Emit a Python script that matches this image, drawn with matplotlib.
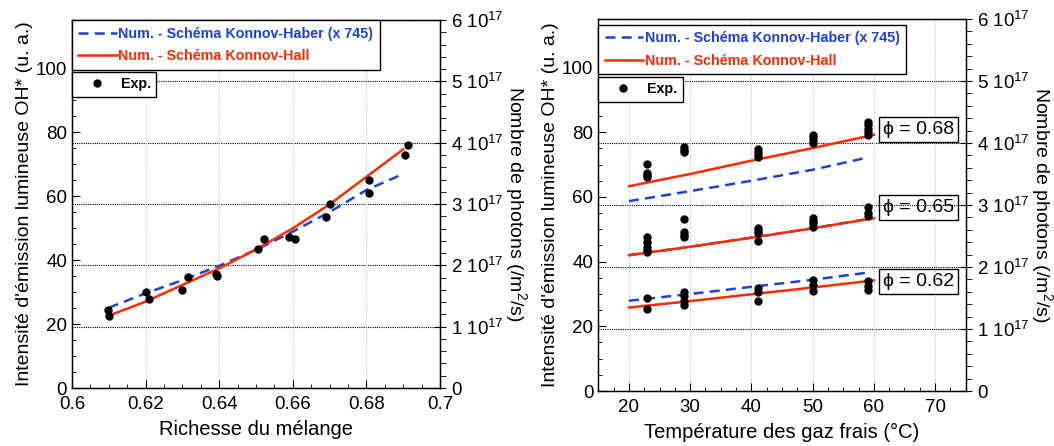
import matplotlib
matplotlib.use("Agg")
import matplotlib.pyplot as plt
from matplotlib.ticker import MultipleLocator, FuncFormatter
from matplotlib.lines import Line2D

plt.rcParams['font.family'] = ['Liberation Sans', 'DejaVu Sans']
plt.rcParams['mathtext.fontset'] = 'custom'
plt.rcParams['mathtext.rm'] = 'Liberation Sans'
plt.rcParams['mathtext.it'] = 'Liberation Sans:italic'
plt.rcParams['mathtext.bf'] = 'Liberation Sans:bold'

RED = '#ff2a00'
BLUE = '#1f3fe0'

# --- left panel: intensity vs equivalence ratio
phi_exp = [0.6097, 0.6101, 0.6201, 0.6210, 0.6298, 0.6315, 0.6390, 0.6393,
           0.6505, 0.6521, 0.6589, 0.6607, 0.6691, 0.6701, 0.6806, 0.6808,
           0.6906, 0.6912]
I_exp = [24.4, 22.6, 30.1, 27.9, 30.6, 34.7, 35.7, 35.1,
         43.3, 46.7, 47.3, 46.6, 53.4, 57.5, 65.0, 61.1,
         72.8, 76.1]
phi_num = [0.61, 0.62, 0.63, 0.64, 0.65, 0.66, 0.67, 0.68, 0.69]
I_hall = [22.6, 27.0, 32.2, 37.4, 43.3, 49.9, 57.4, 66.0, 74.6]
I_haber = [25.1, 29.6, 33.7, 38.2, 43.2, 48.9, 55.0, 61.9, 66.9]

# --- right panel: intensity vs fresh gas temperature
T_exp = [23, 29, 41, 50, 59]
exp_068 = [[70.1, 67.5, 66.8, 66.1], [75.3, 74.6, 73.8], [74.8, 73.8, 72.9, 72.4],
           [79.3, 78.4, 77.6, 76.7], [83.1, 82.1, 81.0, 80.2, 79.2]]
exp_065 = [[47.7, 46.1, 44.6, 43.5, 43.0], [53.2, 49.1, 48.2, 47.7], [50.5, 49.5, 48.8, 46.5],
           [53.4, 52.6, 51.9, 50.8], [56.8, 55.0, 54.0]]
exp_062 = [[28.8, 25.5], [30.5, 29.3, 27.9, 26.7], [31.8, 30.5, 27.9],
           [34.4, 32.8, 31.0], [33.9, 32.6, 31.3]]
T_num = [20, 30, 40, 50, 60]
T_haber = [20, 30, 40, 50, 59]
hall_068 = [63.3, 67.1, 71.2, 75.1, 79.2]
haber_068 = [58.7, 61.8, 65.0, 68.4, 72.2]
hall_065 = [42.0, 44.6, 47.4, 50.3, 53.4]
haber_065 = [42.0, 44.6, 47.4, 50.3, 53.2]
hall_062 = [25.8, 27.8, 29.9, 32.0, 34.2]
haber_062 = [27.9, 30.0, 32.2, 34.4, 36.6]
phi_labels = ['ϕ = 0.68', 'ϕ = 0.65', 'ϕ = 0.62']
phi_label_y = [80.8, 56.7, 33.8]

YMAX = 115
PHOT_MAX = 6e17


def photon_fmt(v, pos):
    n = int(round(v / 1e17))
    if n == 0:
        return '0'
    return r'$\mathregular{%d\ 10^{17}}$' % n


def setup_axes(ax, xlabel):
    ax.set_ylim(0, YMAX)
    ax.yaxis.set_major_locator(MultipleLocator(20))
    ax.yaxis.set_minor_locator(MultipleLocator(5))
    ax.tick_params(axis='both', which='both', direction='in', labelsize=13.5, top=False, right=False)
    ax.tick_params(which='major', length=6)
    ax.tick_params(which='minor', length=3)
    ax.tick_params(axis='x', pad=6)
    ax.set_xlabel(xlabel, fontsize=14.5, labelpad=5)
    ax.set_ylabel("Intensité d'émission lumineuse OH* (u. a.)", fontsize=14, labelpad=2)
    ax.grid(axis='x', which='major', color='#bdbdbd', linestyle=(0, (1, 1.5)), linewidth=0.8)
    for s in ax.spines.values():
        s.set_linewidth(1.0)

    ax2 = ax.twinx()
    ax2.set_ylim(0, PHOT_MAX)
    ax2.yaxis.set_major_locator(MultipleLocator(1e17))
    ax2.yaxis.set_minor_locator(MultipleLocator(0.2e17))
    ax2.yaxis.set_major_formatter(FuncFormatter(photon_fmt))
    ax2.tick_params(axis='y', which='major', direction='inout', length=9, labelsize=13.5)
    ax2.tick_params(axis='y', which='minor', direction='out', length=4)
    ax2.grid(axis='y', which='major', color='black', linestyle=(0, (1, 1)), linewidth=0.8)
    ax2.set_ylabel('Nombre de photons (/m$^2$/s)', fontsize=14, rotation=270, labelpad=18)
    ax.set_zorder(ax2.get_zorder() + 1)
    ax.patch.set_visible(False)
    return ax2


def add_legends(ax, y_top):
    h = [Line2D([], [], color=BLUE, ls=(0, (4, 2.5)), lw=1.8),
         Line2D([], [], color=RED, lw=1.8)]
    leg1 = ax.legend(h, ['Num. - Schéma Konnov-Haber (x 745)', 'Num. - Schéma Konnov-Hall'],
                     loc='upper left', bbox_to_anchor=(0, y_top), borderaxespad=0,
                     fancybox=False, edgecolor='black', framealpha=1, handlelength=2.7,
                     handletextpad=0.1, borderpad=0.45, labelspacing=0.6,
                     prop={'weight': 'bold', 'size': 10.3})
    leg1.get_frame().set_linewidth(1.0)
    for t, c in zip(leg1.get_texts(), [BLUE, RED]):
        t.set_color(c)
    ax.add_artist(leg1)
    bb_y = y_top - 0.14
    h2 = [Line2D([], [], color='black', marker='o', ls='none', ms=5)]
    leg2 = ax.legend(h2, ['Exp.'], loc='upper left', bbox_to_anchor=(0, bb_y), borderaxespad=0,
                     fancybox=False, edgecolor='black', framealpha=1, handlelength=2.7,
                     handletextpad=0.3, borderpad=0.4,
                     prop={'weight': 'bold', 'size': 10.3})
    leg2.get_frame().set_linewidth(1.0)


fig = plt.figure(figsize=(10.54, 4.46), dpi=100)

# left panel
axL = fig.add_axes([0.0683, 0.130, 0.3492, 0.825])
setup_axes(axL, 'Richesse du mélange')
axL.set_xlim(0.6, 0.7)
axL.xaxis.set_major_locator(MultipleLocator(0.02))
axL.xaxis.set_minor_locator(MultipleLocator(0.005))
axL.xaxis.set_major_formatter(FuncFormatter(lambda v, p: ('%.2f' % v).rstrip('0').rstrip('.') if v else '0'))
axL.plot(phi_num, I_haber, color=BLUE, ls=(0, (4, 2.5)), lw=1.8)
axL.plot(phi_num, I_hall, color=RED, lw=1.8)
axL.plot(phi_exp, I_exp, 'o', color='black', ms=5)
add_legends(axL, 1.0)

# right panel
axR = fig.add_axes([0.5677, 0.1233, 0.3485, 0.834])
axR2 = setup_axes(axR, 'Température des gaz frais (°C)')
axR.set_xlim(15, 75)
axR.xaxis.set_major_locator(MultipleLocator(10))
axR.xaxis.set_minor_locator(MultipleLocator(2.5))
for hall, haber in [(hall_068, haber_068), (hall_065, haber_065), (hall_062, haber_062)]:
    axR.plot(T_haber, haber, color=BLUE, ls=(0, (4, 2.5)), lw=1.8)
    axR.plot(T_num, hall, color=RED, lw=1.8)
for grp in [exp_068, exp_065, exp_062]:
    for T, vals in zip(T_exp, grp):
        axR.plot([T] * len(vals), vals, 'o', color='black', ms=5)
for lab, yv in zip(phi_labels, phi_label_y):
    axR2.text(67.3, yv / YMAX * PHOT_MAX, lab, fontsize=14, ha='center', va='center', zorder=1,
              bbox=dict(boxstyle='square,pad=0.22', fc='white', ec='black', lw=1.0))
add_legends(axR, 0.985)

fig.savefig('out.png', dpi=100)
